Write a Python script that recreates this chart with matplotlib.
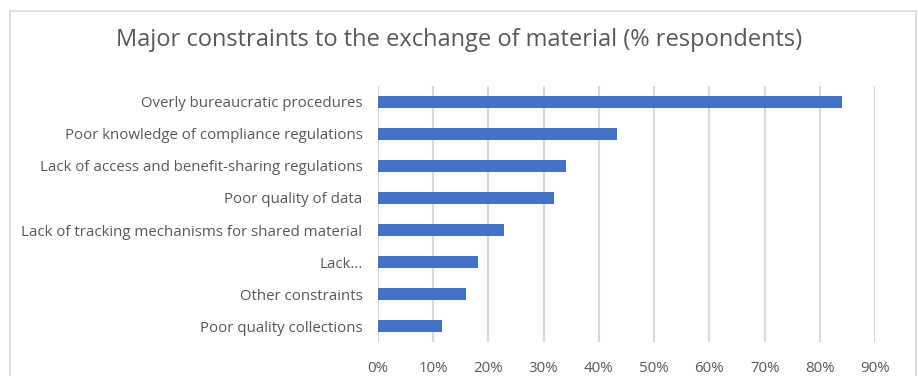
import matplotlib.pyplot as plt
import matplotlib.patches as patches
from matplotlib.ticker import PercentFormatter

categories = [
  "Overly bureaucratic procedures",
  "Poor knowledge of compliance regulations",
  "Lack of access and benefit-sharing regulations",
  "Poor quality of data",
  "Lack of tracking mechanisms for shared material",
  "Lack...",
  "Other constraints",
  "Poor quality collections",
]
shares = [84.0, 43.2, 34.1, 31.9, 22.8, 18.2, 15.9, 11.6]
x_ticks = [0, 10, 20, 30, 40, 50, 60, 70, 80, 90]

BAR_COLOR = "#4472C4"
TEXT_COLOR = "#595959"
GRID_COLOR = "#D9D9D9"

plt.rcParams['font.family'] = ['Open Sans', 'DejaVu Sans']

fig = plt.figure(figsize=(9.18, 3.76), dpi=100)
ax = fig.add_axes([0.4114, 0.0904, 0.5421, 0.6809])

# chart frame
frame = patches.Rectangle((10 / 918, -0.2), (916 - 10) / 918, 1 - 11 / 376 + 0.2,
                          transform=fig.transFigure, fill=False,
                          edgecolor=GRID_COLOR, linewidth=1.2)
fig.patches.append(frame)

y = list(range(len(categories)))
ax.barh(y, shares, height=0.37, color=BAR_COLOR, zorder=3)
ax.set_yticks(y)
ax.set_yticklabels(categories)
ax.set_ylim(len(categories) - 0.5, -0.5)

ax.set_xlim(0, 90)
ax.set_xticks(x_ticks)
ax.xaxis.set_major_formatter(PercentFormatter(decimals=0))
ax.grid(axis="x", color=GRID_COLOR, linewidth=1.5, zorder=0)
ax.set_axisbelow(True)

for side in ["top", "right", "bottom", "left"]:
  ax.spines[side].set_visible(False)
ax.tick_params(axis="both", length=0, colors=TEXT_COLOR, labelsize=10.8)
ax.tick_params(axis="y", pad=11)
ax.tick_params(axis="x", pad=14)

fig.text(0.5, 1 - 40 / 376, "Major constraints to the exchange of material (% respondents)",
         ha="center", va="center", fontsize=17, color=TEXT_COLOR)

fig.savefig("out.png", dpi=100)
